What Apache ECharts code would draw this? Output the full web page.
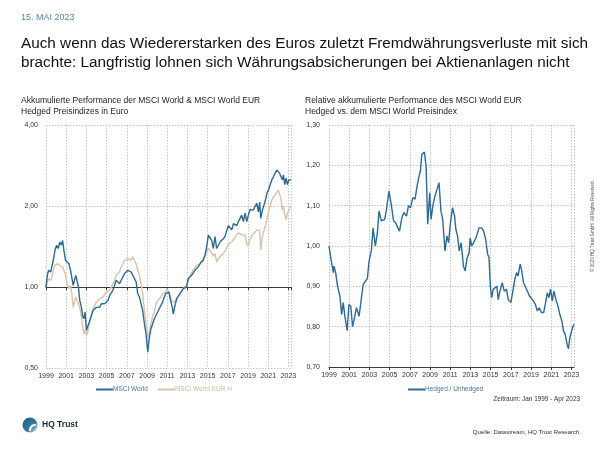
<!DOCTYPE html>
<html>
<head>
<meta charset="utf-8">
<script src="https://cdn.jsdelivr.net/npm/echarts@6/dist/echarts.min.js"></script>
<style>
html,body{margin:0;padding:0;background:#fff;}
#c{width:600px;height:450px;}
</style>
</head>
<body>
<div id="c"></div>
<script>
// ---------- DATA ----------
const xTicks = [1999, 2001, 2003, 2005, 2007, 2009, 2011, 2013, 2015, 2017, 2019, 2021, 2023];
const leftYTicks = [0.5, 1, 2, 4];
const rightYTicks = [0.7, 0.8, 0.9, 1.0, 1.1, 1.2, 1.3];

const leftYears = [
 1999.00,1999.13,1999.26,1999.46,1999.59,1999.72,1999.89,2000.05,2000.21,2000.38,2000.54,2000.64,2000.77,2000.93,
 2001.10,2001.26,2001.43,2001.56,2001.69,2001.82,2001.95,2002.08,2002.21,2002.34,2002.51,2002.61,2002.74,2002.87,
 2003.00,2003.16,2003.33,2003.49,2003.66,2003.82,2003.98,2004.15,2004.31,2004.48,2004.64,2004.80,2004.97,2005.13,
 2005.30,2005.46,2005.62,2005.79,2005.95,2006.11,2006.28,2006.44,2006.61,2006.77,2006.93,2007.10,2007.26,2007.43,
 2007.59,2007.75,2007.92,2008.08,2008.25,2008.41,2008.57,2008.74,2008.90,2009.07,2009.23,2009.39,2009.56,2009.72,
 2009.89,2010.05,2010.21,2010.38,2010.54,2010.70,
 2010.83,2011.00,2011.17,2011.33,2011.50,2011.60,2011.73,2011.93,2012.09,2012.26,2012.42,2012.59,2012.75,2012.92,
 2013.08,2013.25,2013.41,2013.58,2013.74,2013.91,2014.07,2014.24,2014.40,2014.57,2014.74,2014.90,2015.07,2015.23,
 2015.40,2015.56,2015.73,2015.89,2016.06,2016.22,2016.39,2016.55,2016.72,2016.88,2017.05,2017.21,2017.38,2017.55,
 2017.71,2017.88,2018.04,2018.21,2018.37,2018.54,2018.70,2018.87,2019.03,2019.20,2019.36,2019.53,2019.69,2019.86,
 2020.02,2020.15,2020.25,2020.42,2020.59,2020.72,2020.86,2021.02,2021.19,2021.35,2021.51,2021.68,2021.84,2021.98,
 2022.11,2022.24,2022.40,2022.50,2022.63,2022.76,2022.90,2023.03,2023.17,2023.25
];
const msciWorld = [
 1.00,1.105,1.154,1.137,1.12,1.257,1.37,1.43,1.39,1.47,1.43,1.49,1.37,1.257,
 1.276,1.22,1.154,1.17,1.015,1.059,1.105,1.09,1.00,0.89,0.84,0.784,0.762,0.807,
 0.689,0.72,0.75,0.784,0.818,0.807,0.84,0.85,0.84,0.866,0.88,0.866,0.88,0.89,
 0.93,0.944,0.972,1.015,1.059,1.074,1.029,1.059,1.09,1.12,1.105,1.154,1.17,1.137,
 1.105,1.105,1.044,0.944,0.918,0.866,0.818,0.73,0.67,0.573,0.65,0.70,0.73,0.762,
 0.773,0.807,0.83,0.83,0.88,0.866,
 0.944,0.93,0.958,0.89,0.84,0.795,0.84,0.904,0.89,0.944,0.958,0.986,0.972,1.00,
 1.074,1.09,1.105,1.12,1.154,1.17,1.188,1.22,1.24,1.257,1.313,1.41,1.56,1.54,
 1.49,1.39,1.54,1.39,1.43,1.47,1.49,1.51,1.54,1.62,1.69,1.67,1.63,1.72,
 1.72,1.69,1.75,1.78,1.85,1.75,1.88,1.75,1.85,1.94,1.91,1.93,1.99,2.05,
 1.90,2.07,1.80,1.93,1.96,2.10,2.23,2.29,2.40,2.50,2.57,2.65,2.72,2.74,
 2.65,2.61,2.50,2.61,2.40,2.54,2.40,2.50,2.49,2.50
];
const msciWorldEurH = [
 1.00,1.044,1.074,1.059,1.09,1.154,1.205,1.188,1.22,1.195,1.215,1.19,1.154,1.105,
 1.029,0.986,1.015,0.944,0.84,0.88,0.918,0.89,0.88,0.84,0.773,0.72,0.67,0.69,
 0.66,0.689,0.74,0.784,0.83,0.84,0.88,0.866,0.904,0.89,0.918,0.93,0.958,0.944,
 0.972,0.986,1.029,1.059,1.105,1.12,1.137,1.188,1.22,1.257,1.24,1.276,1.294,1.257,
 1.294,1.257,1.22,1.154,1.105,1.029,0.944,0.818,0.73,0.65,0.68,0.73,0.784,0.807,
 0.866,0.89,0.904,0.918,0.944,0.958,
 0.958,0.986,0.972,0.918,0.88,0.87,0.88,0.91,0.925,0.94,0.955,0.986,0.986,1.02,
 1.06,1.10,1.13,1.16,1.175,1.20,1.20,1.22,1.24,1.28,1.30,1.35,1.39,1.37,
 1.34,1.30,1.33,1.24,1.26,1.30,1.30,1.33,1.36,1.40,1.44,1.46,1.47,1.50,
 1.53,1.55,1.59,1.58,1.565,1.58,1.56,1.45,1.42,1.51,1.55,1.57,1.60,1.63,
 1.61,1.62,1.37,1.54,1.63,1.69,1.78,1.90,2.00,2.10,2.16,2.20,2.25,2.29,
 2.22,2.14,1.93,2.00,1.85,1.78,1.88,1.93,1.97,1.99
];

const rightYears = [
 1999.00,1999.20,1999.43,1999.49,1999.66,1999.85,2000.08,2000.25,2000.41,2000.57,2000.80,2000.97,2001.16,2001.33,
 2001.49,2001.72,2001.98,2002.15,2002.38,2002.54,2002.80,2002.97,2003.20,2003.36,2003.59,2003.79,2003.95,2004.18,
 2004.34,2004.51,2004.67,2004.93,2005.16,2005.39,2005.59,2005.82,2005.98,2006.21,2006.41,2006.67,2006.87,2007.07,
 2007.30,2007.52,2007.72,2007.89,2008.05,2008.18,2008.34,2008.44,2008.61,2008.77,2008.97,2009.10,2009.30,2009.49,
 2009.69,2009.89,2010.08,2010.25,2010.48,2010.67,2010.84,2011.00,2011.23,2011.43,2011.56,2011.72,2011.89,2012.08,
 2012.31,2012.48,2012.67,2012.87,2012.97,2013.13,2013.39,2013.62,2013.85,2014.11,2014.31,2014.51,2014.70,2014.84,
 2014.97,2015.10,2015.26,2015.43,2015.62,2015.75,2015.92,2016.15,2016.34,2016.57,2016.74,2017.00,2017.20,2017.39,
 2017.56,2017.72,2017.92,2018.05,2018.25,2018.44,2018.64,2018.84,2019.03,2019.23,2019.43,2019.62,2019.82,2020.02,
 2020.25,2020.44,2020.61,2020.77,2020.93,2021.10,2021.26,2021.46,2021.66,2021.85,2022.05,2022.21,2022.38,2022.57,
 2022.70,2022.84,2022.97,2023.10,2023.25
];
const hedgedUnhedged = [
 1.00,0.967,0.934,0.95,0.934,0.90,0.876,0.83,0.86,0.826,0.79,0.855,0.85,0.80,
 0.818,0.847,0.826,0.83,0.905,0.91,0.92,0.963,0.99,1.045,1.00,1.033,1.087,1.062,
 1.058,1.066,1.087,1.136,1.103,1.062,1.058,1.045,1.037,1.07,1.083,1.074,1.10,1.095,
 1.12,1.116,1.149,1.17,1.186,1.227,1.223,1.233,1.198,1.054,1.132,1.066,1.103,1.124,
 1.14,1.157,1.087,1.066,0.988,1.025,1.008,1.054,1.095,1.074,1.041,1.025,0.988,1.008,
 0.95,0.938,0.971,0.983,1.02,1.00,1.012,1.025,1.045,1.045,1.037,1.016,0.98,0.971,
 0.90,0.872,0.893,0.897,0.90,0.867,0.888,0.909,0.888,0.893,0.867,0.86,0.888,0.917,
 0.934,0.926,0.955,0.942,0.909,0.905,0.888,0.876,0.872,0.864,0.855,0.839,0.847,0.835,
 0.835,0.86,0.884,0.872,0.893,0.864,0.888,0.867,0.851,0.83,0.814,0.789,0.781,0.756,
 0.745,0.773,0.785,0.797,0.806
];

// ---------- CHART ----------
const BLUE = '#2d6a94';
const BEIGE = '#d8c2ab';
const FONT = '"Liberation Sans", Arial, Helvetica, sans-serif';
const zip = (xs, ys) => xs.map((x, i) => [x, ys[i]]);
const fmt = v => (Math.round(v * 100) / 100).toFixed(2).replace('.', ',');
const yearLabel = v => xTicks.indexOf(Math.round(v)) >= 0 && Math.abs(v - Math.round(v)) < 1e-6 ? String(Math.round(v)) : '';

const gridLine = { show: true, lineStyle: { color: '#b5b5b5', type: [1.5, 1.5], width: 0.8 } };
const axisFont = { fontFamily: FONT, fontSize: 7, color: '#333' };

function xAxisBase(gridIndex) {
  return {
    type: 'value', gridIndex, min: 1999, max: 2023.25, interval: 2,
    axisLabel: Object.assign({ formatter: yearLabel, margin: 5, showMaxLabel: false }, axisFont),
    splitLine: gridLine,
    axisLine: { show: false }, axisTick: { show: false }
  };
}

const chart = echarts.init(document.getElementById('c'), null, { renderer: 'canvas' });
const option = {
  animation: false,
  backgroundColor: '#fff',
  textStyle: { fontFamily: FONT },
  grid: [
    { left: 46, top: 125, width: 245, height: 243 },
    { left: 329, top: 125, width: 245, height: 242 }
  ],
  xAxis: [
    xAxisBase(0),
    Object.assign(xAxisBase(0), {
      position: 'bottom', offset: -81,
      axisLabel: { show: false }, splitLine: { show: false },
      axisLine: { show: true, lineStyle: { color: '#3a3a3a', width: 1.2 } },
      axisTick: { show: true, length: 3, lineStyle: { color: '#3a3a3a' } }
    }),
    Object.assign(xAxisBase(1), {
      axisLine: { show: true, lineStyle: { color: '#3a3a3a', width: 1.2 } },
      axisTick: { show: true, length: 3, lineStyle: { color: '#3a3a3a' } }
    })
  ],
  yAxis: [
    {
      type: 'log', logBase: 2, gridIndex: 0, min: leftYTicks[0], max: leftYTicks[leftYTicks.length - 1],
      axisLabel: Object.assign({ formatter: fmt, margin: 8 }, axisFont),
      splitLine: gridLine, axisLine: { show: false }, axisTick: { show: false }
    },
    {
      type: 'value', gridIndex: 1, min: rightYTicks[0], max: rightYTicks[rightYTicks.length - 1], interval: 0.1,
      axisLabel: Object.assign({ formatter: fmt, margin: 9 }, axisFont),
      splitLine: gridLine, axisLine: { show: false }, axisTick: { show: false }
    }
  ],
  legend: [
    {
      left: 96, top: 386, padding: 0, itemWidth: 17, itemHeight: 2, itemGap: 10, icon: 'rect',
      textStyle: { fontFamily: FONT, fontSize: 6.5, padding: [0, 0, 0, -5] },
      data: [
        { name: 'MSCI World', textStyle: { color: '#4a7597' } },
        { name: 'MSCI World EUR H', textStyle: { color: '#cdb8a2' } }
      ]
    },
    {
      left: 408, top: 386, padding: 0, itemWidth: 17, itemHeight: 2, icon: 'rect',
      textStyle: { fontFamily: FONT, fontSize: 6.5, padding: [0, 0, 0, -5] },
      data: [{ name: 'Hedged / Unhedged', textStyle: { color: '#4a7597' } }]
    }
  ],
  series: [
    {
      name: 'MSCI World EUR H', type: 'line', xAxisIndex: 0, yAxisIndex: 0,
      data: zip(leftYears, msciWorldEurH), showSymbol: false, smooth: false,
      lineStyle: { color: BEIGE, width: 1.4 }, itemStyle: { color: BEIGE }
    },
    {
      name: 'MSCI World', type: 'line', xAxisIndex: 0, yAxisIndex: 0,
      data: zip(leftYears, msciWorld), showSymbol: false,
      lineStyle: { color: BLUE, width: 1.4 }, itemStyle: { color: BLUE }
    },
    {
      name: 'Hedged / Unhedged', type: 'line', xAxisIndex: 2, yAxisIndex: 1,
      data: zip(rightYears, hedgedUnhedged), showSymbol: false,
      lineStyle: { color: BLUE, width: 1.4 }, itemStyle: { color: BLUE }
    }
  ],
  graphic: [
    { type: 'text', left: 21, top: 13, style: { text: '15. MAI 2023', font: '9px ' + FONT, fill: '#4f86b0' } },
    { type: 'text', left: 21, top: 34, style: { text: 'Auch wenn das Wiedererstarken des Euros zuletzt Fremdwährungsverluste mit sich\nbrachte: Langfristig lohnen sich Währungsabsicherungen bei Aktienanlagen nicht', font: '15.3px ' + FONT, fill: '#111', lineHeight: 19 } },
    { type: 'text', left: 21, top: 95, style: { text: 'Akkumulierte Performance der MSCI World & MSCI World EUR\nHedged Preisindizes in Euro', font: '8.5px ' + FONT, fill: '#222', lineHeight: 11 } },
    { type: 'text', left: 305, top: 95, style: { text: 'Relative akkumulierte Performance des MSCI World EUR\nHedged vs. dem MSCI World Preisindex', font: '8.5px ' + FONT, fill: '#222', lineHeight: 11 } },
    { type: 'text', x: 580, y: 399, style: { text: 'Zeitraum: Jan 1999 - Apr 2023', font: '6.4px ' + FONT, fill: '#333', align: 'right', verticalAlign: 'middle' } },
    { type: 'text', x: 593, y: 226, rotation: Math.PI / 2, style: { text: '© 2023 HQ Trust GmbH. All Rights Reserved.', font: '4.5px ' + FONT, fill: '#555', align: 'center', verticalAlign: 'middle' } },
    { type: 'text', x: 581, y: 432, style: { text: 'Quelle: Datastream, HQ Trust Research.', font: '6px ' + FONT, fill: '#333', align: 'right', verticalAlign: 'middle' } },
    { type: 'circle', shape: { cx: 30, cy: 425, r: 7.5 },
      style: { fill: new echarts.graphic.LinearGradient(0, 0, 1, 1, [{ offset: 0, color: '#1a5a86' }, { offset: 0.6, color: '#3b7aa5' }, { offset: 1, color: '#cfe0ec' }]) } },
    { type: 'arc', shape: { cx: 35, cy: 430, r: 5, startAngle: Math.PI * 0.95, endAngle: Math.PI * 1.55 },
      style: { stroke: '#fff', lineWidth: 2, fill: null } },
    { type: 'text', x: 42, y: 425, style: { text: 'HQ Trust', font: 'bold 8.5px ' + FONT, fill: '#1e2a33', verticalAlign: 'middle' } }
  ]
};
chart.setOption(option);
</script>
</body>
</html>
